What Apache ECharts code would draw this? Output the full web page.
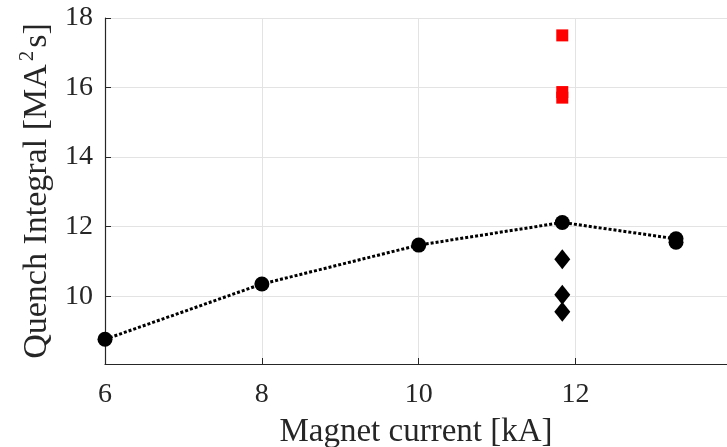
<!DOCTYPE html>
<html><head><meta charset="utf-8">
<script src="https://cdn.jsdelivr.net/npm/echarts@6/dist/echarts.min.js"></script>
<style>html,body{margin:0;padding:0;background:#fff}#c{width:727px;height:447px}</style>
</head><body><div id="c"></div>
<script>
const circleX = [6, 8, 10, 11.83, 13.28, 13.28];
const circleY = [8.76, 10.35, 11.47, 12.12, 11.65, 11.55];
const diamondX = [11.83, 11.83, 11.83];
const diamondY = [11.06, 10.04, 9.55];
const squareX = [11.83, 11.83, 11.83];
const squareY = [17.5, 15.87, 15.71];
const yTicks = [10, 12, 14, 16, 18];
const xTicks = [6, 8, 10, 12];

const font = "Liberation Serif";
const chart = echarts.init(document.getElementById('c'));
const zip = (a, b) => a.map((v, i) => [v, b[i]]);
const tickRich = {t: {fontFamily: font, fontSize: 28, color: '#262626'}};
chart.setOption({
  animation: false,
  textStyle: {fontFamily: font},
  grid: {left: 105, right: 0, top: 18, bottom: 83, outerBoundsMode: 'none', containLabel: false},
  xAxis: {
    type: 'value', min: 6, max: 13.93, interval: 2,
    name: 'Magnet current [kA]', nameLocation: 'middle', nameGap: 52,
    nameTextStyle: {fontFamily: font, fontSize: 33, color: '#262626'},
    axisLine: {show: true, onZero: false, lineStyle: {color: '#262626', width: 1.2}},
    axisTick: {show: true, inside: true, length: 6, lineStyle: {color: '#262626'}},
    axisLabel: {fontFamily: font, fontSize: 28, color: '#262626', margin: 17, rich: tickRich,
      showMaxLabel: false, formatter: v => xTicks.includes(v) ? '{t|' + v + '}' : ''},
    splitLine: {show: true, lineStyle: {color: '#e3e3e3', width: 1}}
  },
  yAxis: {
    type: 'value', min: 8.05, max: 18,
    name: 'Quench Integral [MA{sup|2}s]', nameLocation: 'middle', nameGap: 46,
    nameTextStyle: {fontFamily: font, fontSize: 34, color: '#262626',
      rich: {sup: {fontFamily: font, fontSize: 21, color: '#262626', padding: [0, 3, 20, 3]}}},
    axisLine: {show: true, onZero: false, lineStyle: {color: '#262626', width: 1.2}},
    axisTick: {show: true, inside: true, length: 6, customValues: yTicks, lineStyle: {color: '#262626'}},
    axisLabel: {fontFamily: font, fontSize: 28, color: '#262626', margin: 12, customValues: yTicks,
      rich: tickRich, formatter: v => '{t|' + v + '}'},
    splitLine: {show: true, lineStyle: {color: '#e3e3e3', width: 1}}
  },
  series: [
    {type: 'line', data: zip(circleX, circleY), symbol: 'circle', symbolSize: 15,
      itemStyle: {color: '#000', opacity: 1}, lineStyle: {color: '#000', width: 3, type: [3, 2]}, z: 3},
    {type: 'scatter', data: zip(diamondX, diamondY), symbol: 'diamond', symbolSize: [16, 20],
      itemStyle: {color: '#000', opacity: 1}},
    {type: 'scatter', data: zip(squareX, squareY), symbol: 'rect', symbolSize: 12,
      itemStyle: {color: '#ff0000', opacity: 1}}
  ]
});
</script></body></html>
